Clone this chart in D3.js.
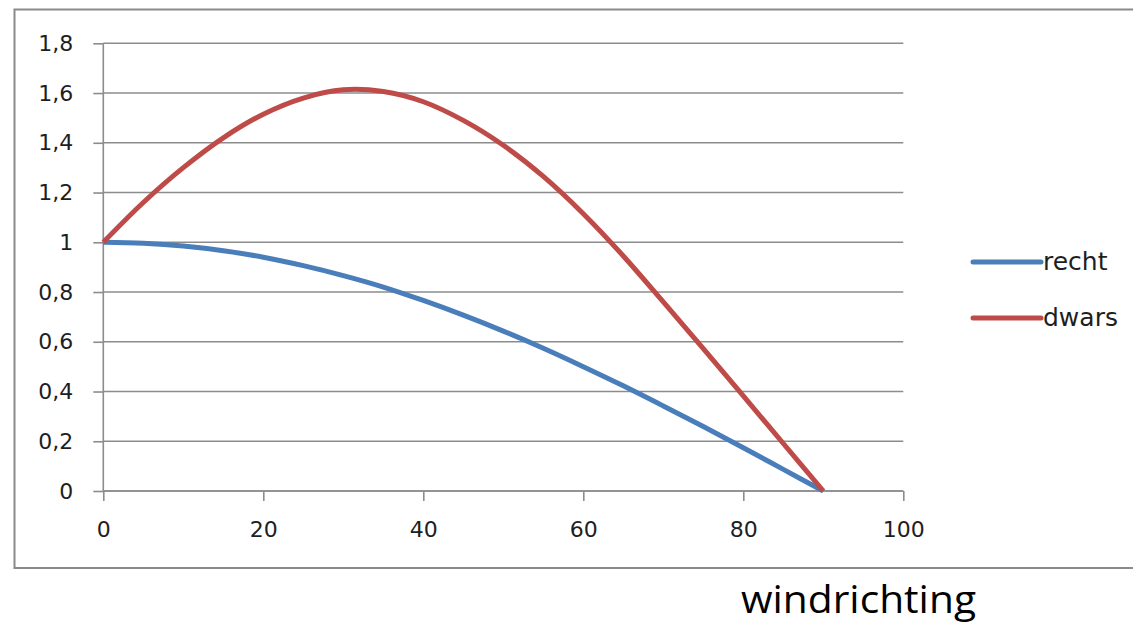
<!DOCTYPE html>
<html lang="nl">
<head>
    <meta charset="UTF-8">
    <title>windrichting</title>
    <script src="https://d3js.org/d3.v7.min.js"></script>
    <style>
        * { margin: 0; padding: 0; }
        html, body { width: 1133px; height: 631px; background: #fff; overflow: hidden; }
        svg { display: block; }
        .tick text { font-family: "DejaVu Sans", Tahoma, sans-serif; fill: #1e1e1e; }
    </style>
</head>
<body>
    <svg width="1133" height="631"></svg>

    <script>
        // windrichting (graden)
        const hoeken = [0, 5, 10, 15, 20, 25, 30, 35, 40, 45, 50, 55, 60, 65, 70, 75, 80, 85, 90];
        const recht = [1.00, 0.996, 0.985, 0.966, 0.94, 0.906, 0.866, 0.82, 0.766, 0.707, 0.643, 0.574, 0.50, 0.423, 0.342, 0.259, 0.174, 0.087, 0];
        const dwars = [1.00, 1.16, 1.30, 1.42, 1.515, 1.58, 1.613, 1.606, 1.565, 1.49, 1.39, 1.265, 1.115, 0.945, 0.76, 0.572, 0.382, 0.191, 0];
        const xTicks = [0, 20, 40, 60, 80, 100];
        const yTicks = [0, 0.2, 0.4, 0.6, 0.8, 1, 1.2, 1.4, 1.6, 1.8];

        const series = [
            { name: "recht", values: recht, color: "#4a7ebb" },
            { name: "dwars", values: dwars, color: "#be4b48" }
        ];

        const svg = d3.select("svg");

        // chart frame
        svg.append("rect")
            .attr("x", 14.5).attr("y", 9.5)
            .attr("width", 1140).attr("height", 558.5)
            .attr("fill", "#fff")
            .attr("stroke", "#8a8a8a")
            .attr("stroke-width", 2);

        const x = d3.scaleLinear().domain([0, 100]).range([103.3, 903.3]);
        const y = d3.scaleLinear().domain([0, 1.8]).range([491, 43.3]);

        const fmt = d => d3.format(".1~f")(d).replace(".", ",");

        // horizontal gridlines
        svg.append("g")
            .selectAll("line")
            .data(yTicks)
            .join("line")
            .attr("x1", x(0)).attr("x2", x(100))
            .attr("y1", d => y(d)).attr("y2", d => y(d))
            .attr("stroke", "#8c8c8c")
            .attr("stroke-width", 1.6);

        // y axis
        const yAxis = svg.append("g")
            .attr("transform", `translate(${x(0)},0)`)
            .call(d3.axisLeft(y).tickValues(yTicks).tickFormat(fmt).tickSize(10).tickPadding(20));
        yAxis.selectAll("text").attr("font-size", 22);

        // x axis
        const xAxis = svg.append("g")
            .attr("transform", `translate(0,${y(0)})`)
            .call(d3.axisBottom(x).tickValues(xTicks).tickFormat(d3.format("d")).tickSize(10).tickPadding(20));
        xAxis.selectAll("text").attr("font-size", 22);

        svg.selectAll(".domain, .tick line")
            .attr("stroke", "#8c8c8c")
            .attr("stroke-width", 1.6);
        yAxis.select(".domain").attr("d", `M0,${y(1.8)}V${y(0)}`);
        xAxis.select(".domain").attr("d", `M${x(0)},0H${x(100)}`);

        // lines
        const line = d3.line()
            .x((d, i) => x(hoeken[i]))
            .y(d => y(d))
            .curve(d3.curveCatmullRom.alpha(0.5));

        svg.append("g")
            .selectAll("path")
            .data(series)
            .join("path")
            .attr("d", d => line(d.values))
            .attr("fill", "none")
            .attr("stroke", d => d.color)
            .attr("stroke-width", 5)
            .attr("stroke-linejoin", "round");

        // legend
        const legend = svg.append("g")
            .selectAll("g")
            .data(series)
            .join("g")
            .attr("transform", (d, i) => `translate(973,${262 + i * 56})`);

        legend.append("line")
            .attr("x1", 0).attr("x2", 68)
            .attr("stroke", d => d.color)
            .attr("stroke-width", 5)
            .attr("stroke-linecap", "round");

        legend.append("text")
            .attr("x", 70).attr("y", 8)
            .attr("font-family", "DejaVu Sans, Tahoma, sans-serif")
            .attr("font-size", 25)
            .attr("fill", "#1e1e1e")
            .text(d => d.name);

        // axis title below the frame
        svg.append("text")
            .attr("x", 741).attr("y", 613)
            .attr("font-family", "Open Sans, sans-serif")
            .attr("font-size", 38)
            .attr("fill", "#000")
            .attr("textLength", 235)
            .attr("lengthAdjust", "spacingAndGlyphs")
            .text("windrichting");
    </script>
</body>
</html>
